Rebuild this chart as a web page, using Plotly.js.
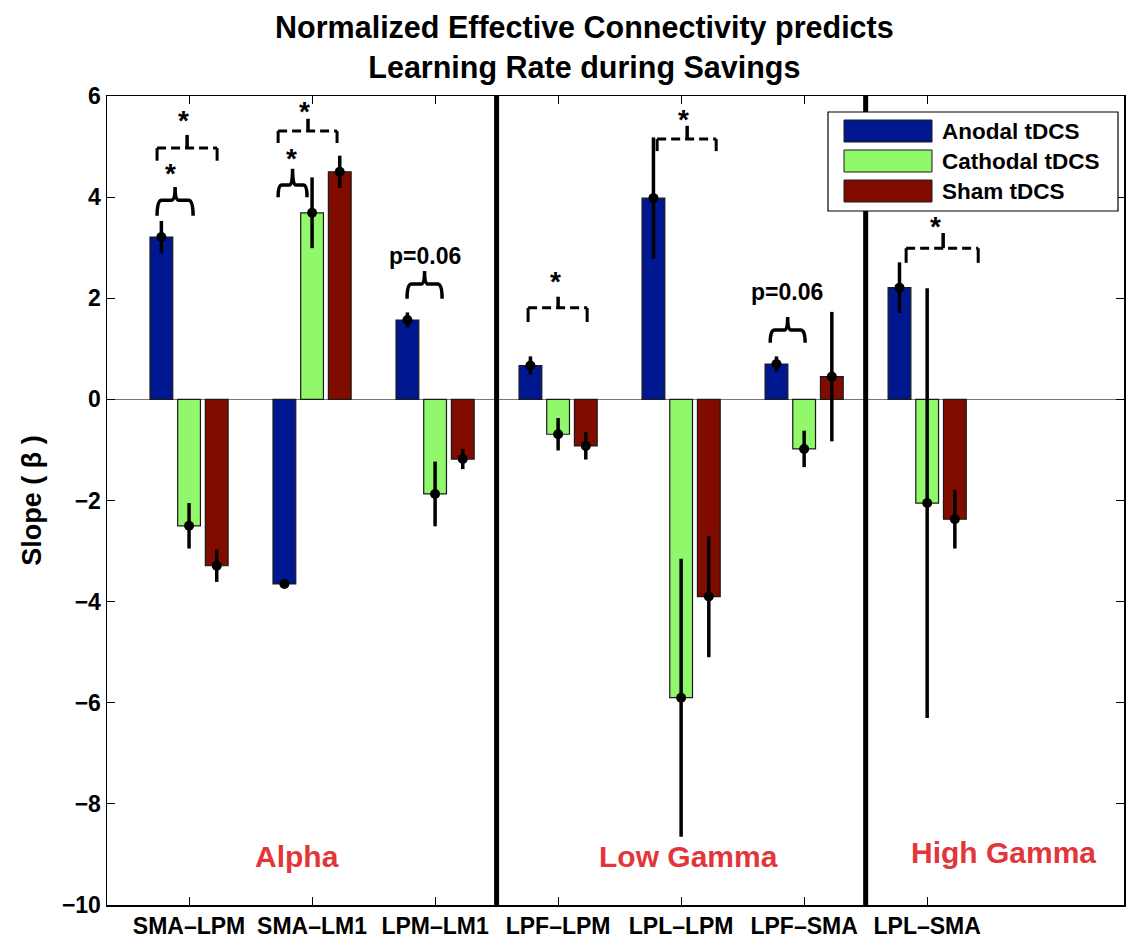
<!DOCTYPE html>
<html>
<head>
<meta charset="utf-8">
<script src="https://cdn.plot.ly/plotly-3.0.1.min.js"></script>
<style>html,body{margin:0;padding:0;background:#fff;}#chart{width:1126px;height:941px;}</style>
</head>
<body>
<div id="chart"></div>
<script>
// ---- data ----
const categories = ['SMA–LPM','SMA–LM1','LPM–LM1','LPF–LPM','LPL–LPM','LPF–SMA','LPL–SMA'];
const seriesNames = ['Anodal tDCS','Cathodal tDCS','Sham tDCS'];
const anodal      = [3.21, -3.65, 1.57, 0.67, 3.98, 0.70, 2.21];
const anodalErr   = [0.32, 0.05, 0.15, 0.18, 1.20, 0.15, 0.50];
const cathodal    = [-2.50, 3.69, -1.87, -0.69, -5.90, -0.98, -2.05];
const cathodalErr = [0.45, 0.70, 0.64, 0.32, 2.75, 0.36, 4.25];
const sham        = [-3.29, 4.50, -1.18, -0.92, -3.90, 0.45, -2.37];
const shamErr     = [0.32, 0.32, 0.20, 0.27, 1.20, 1.28, 0.58];
const bandLabels  = ['Alpha','Low Gamma','High Gamma'];
const bandDividers = [3.5, 6.5];

// significance markers
const sigMarks = [
  {type:'brace',  x0:0.740, x1:1.033, yEnd:3.63, yH:3.94, yTop:4.20, label:'*',      lx:0.846, ly:4.60},
  {type:'dashed', x0:0.740, x1:1.228, yEnd:4.72, yH:4.97, yTop:5.23, xm:0.984, label:'*', lx:0.951, ly:5.66},
  {type:'brace',  x0:1.724, x1:1.959, yEnd:4.00, yH:4.24, yTop:4.56, label:'*',      lx:1.829, ly:4.91},
  {type:'dashed', x0:1.724, x1:2.203, yEnd:5.07, yH:5.31, yTop:5.55, xm:1.967, label:'*', lx:1.935, ly:5.84},
  {type:'brace',  x0:2.772, x1:3.057, yEnd:1.99, yH:2.28, yTop:2.54, label:'p=0.06', lx:2.919, ly:2.84},
  {type:'dashed', x0:3.756, x1:4.236, yEnd:1.53, yH:1.81, yTop:2.03, xm:4.000, label:'*', lx:3.976, ly:2.46},
  {type:'dashed', x0:4.805, x1:5.285, yEnd:4.91, yH:5.15, yTop:5.41, xm:5.049, label:'*', lx:5.016, ly:5.68},
  {type:'brace',  x0:5.724, x1:6.008, yEnd:1.12, yH:1.37, yTop:1.63, label:'p=0.06', lx:5.862, ly:2.12},
  {type:'dashed', x0:6.829, x1:7.415, yEnd:2.70, yH:2.99, yTop:3.29, xm:7.130, label:'*', lx:7.065, ly:3.55}
];

// ---- style ----
const colors = ['#00188f', '#90f86a', '#800c00'];
const FONT = 'Liberation Sans, Arial, Helvetica, sans-serif';
const offsets = [-0.225, 0, 0.225];
const barWidth = 0.185;
const xIdx = categories.map((c, i) => i + 1);
const values = [anodal, cathodal, sham];
const errs = [anodalErr, cathodalErr, shamErr];

const traces = [];
values.forEach((vals, k) => {
  traces.push({
    type: 'bar', name: seriesNames[k],
    x: xIdx.map(v => v + offsets[k]), y: vals, width: barWidth,
    marker: {color: colors[k], line: {color: '#1a1a1a', width: 1.2}},
    showlegend: false, hoverinfo: 'skip'
  });
});
values.forEach((vals, k) => {
  traces.push({
    type: 'scatter', mode: 'markers', name: seriesNames[k] + ' SE',
    x: xIdx.map(v => v + offsets[k]), y: vals,
    marker: {color: '#000', size: 10},
    error_y: {type: 'data', array: errs[k], visible: true, color: '#000', thickness: 3.5, width: 0},
    showlegend: false, hoverinfo: 'skip'
  });
});

const shapes = [];
const annotations = [];
bandDividers.forEach(xv => shapes.push({type:'line', xref:'x', yref:'paper', x0:xv, x1:xv, y0:0, y1:1,
  line:{color:'#000', width:5}, layer:'above'}));

sigMarks.forEach(s => {
  if (s.type === 'brace') {
    const xm = (s.x0 + s.x1) / 2, r = (s.x1 - s.x0) * 0.13;
    shapes.push({type:'path', xref:'x', yref:'y', layer:'above',
      path:`M ${s.x0},${s.yEnd} Q ${s.x0},${s.yH} ${s.x0+r},${s.yH} L ${xm-r*0.8},${s.yH} Q ${xm},${s.yH} ${xm},${s.yTop} Q ${xm},${s.yH} ${xm+r*0.8},${s.yH} L ${s.x1-r},${s.yH} Q ${s.x1},${s.yH} ${s.x1},${s.yEnd}`,
      line:{color:'#000', width:3.5}});
  } else {
    shapes.push({type:'line', xref:'x', yref:'y', layer:'above',
      x0:s.x0, x1:s.x1, y0:s.yH, y1:s.yH, line:{color:'#000', width:3, dash:'9px,5px'}});
    [s.x0, s.x1].forEach(xe => shapes.push({type:'line', xref:'x', yref:'y', layer:'above',
      x0:xe, x1:xe, y0:s.yH, y1:s.yEnd, line:{color:'#000', width:3}}));
    shapes.push({type:'line', xref:'x', yref:'y', layer:'above',
      x0:s.xm, x1:s.xm, y0:s.yH, y1:s.yTop, line:{color:'#000', width:3.5}});
  }
  const isStar = s.label === '*';
  annotations.push({xref:'x', yref:'y', x:s.lx, y:s.ly, text:s.label, showarrow:false,
    xanchor:'center', yanchor:'middle', yshift: isStar ? -7 : 0,
    font:{family:FONT, size: isStar ? 28 : 23, color:'#000', weight:'bold'}});
});

const bandPos = [[1.878, -9.05], [5.057, -9.05], [7.618, -8.97]];
bandLabels.forEach((t, i) => annotations.push({xref:'x', yref:'y', x:bandPos[i][0], y:bandPos[i][1],
  text:t, showarrow:false, xanchor:'center', yanchor:'middle',
  font:{family:FONT, size:30, color:'#e3363a', weight:'bold'}}));

// custom legend (MATLAB style wide swatches)
const L = 107, R = 1124, T = 96, B = 905;
const px = v => (v - L) / (R - L);
const py = v => (B - v) / (B - T);
shapes.push({type:'rect', xref:'paper', yref:'paper', x0:px(828), x1:px(1118), y0:py(211), y1:py(112),
  fillcolor:'#fff', line:{color:'#000', width:1.2}, layer:'above'});
const rowY = [131, 161, 191];
seriesNames.forEach((n, k) => {
  shapes.push({type:'rect', xref:'paper', yref:'paper', x0:px(844), x1:px(932), y0:py(rowY[k]+11), y1:py(rowY[k]-11),
    fillcolor:colors[k], line:{color:'#1a1a1a', width:1}, layer:'above'});
  annotations.push({xref:'paper', yref:'paper', x:px(940), y:py(rowY[k]), text:n, showarrow:false,
    xanchor:'left', yanchor:'middle', font:{family:FONT, size:22.5, color:'#000', weight:'bold'}});
});

const layout = {
  width: 1126, height: 941,
  margin: {l: L, r: 1126 - R, t: T, b: 941 - B},
  paper_bgcolor: '#fff', plot_bgcolor: '#fff',
  barmode: 'overlay',
  title: {text: 'Normalized Effective Connectivity predicts<br>Learning Rate during Savings',
    font: {family: FONT, size: 30.5, color: '#000', weight: 'bold'},
    x: 0.519, xref: 'container', xanchor: 'center', y: 1 - 38/941, yref: 'container', yanchor: 'middle'},
  xaxis: {range: [0.333, 8.6], tickmode: 'array', tickvals: xIdx, ticktext: categories,
    ticks: 'inside', ticklen: 8, tickwidth: 1, tickcolor: '#000',
    showline: true, linecolor: '#000', linewidth: 1.5, mirror: 'ticks',
    showgrid: false, zeroline: false,
    tickfont: {family: FONT, size: 23, color: '#000', weight: 'bold'}},
  yaxis: {range: [-10, 6], dtick: 2, tick0: 0,
    ticks: 'inside', ticklen: 8, tickwidth: 1, tickcolor: '#000',
    showline: true, linecolor: '#000', linewidth: 1.5, mirror: 'ticks',
    showgrid: false, zeroline: true, zerolinecolor: '#777', zerolinewidth: 1,
    tickfont: {family: FONT, size: 23, color: '#000', weight: 'bold'},
    title: {text: 'Slope ( β )', standoff: 12, font: {family: FONT, size: 27, color: '#000', weight: 'bold'}}},
  shapes: shapes,
  annotations: annotations,
  showlegend: false
};

Plotly.newPlot('chart', traces, layout, {displayModeBar: false, staticPlot: true});
</script>
</body>
</html>
